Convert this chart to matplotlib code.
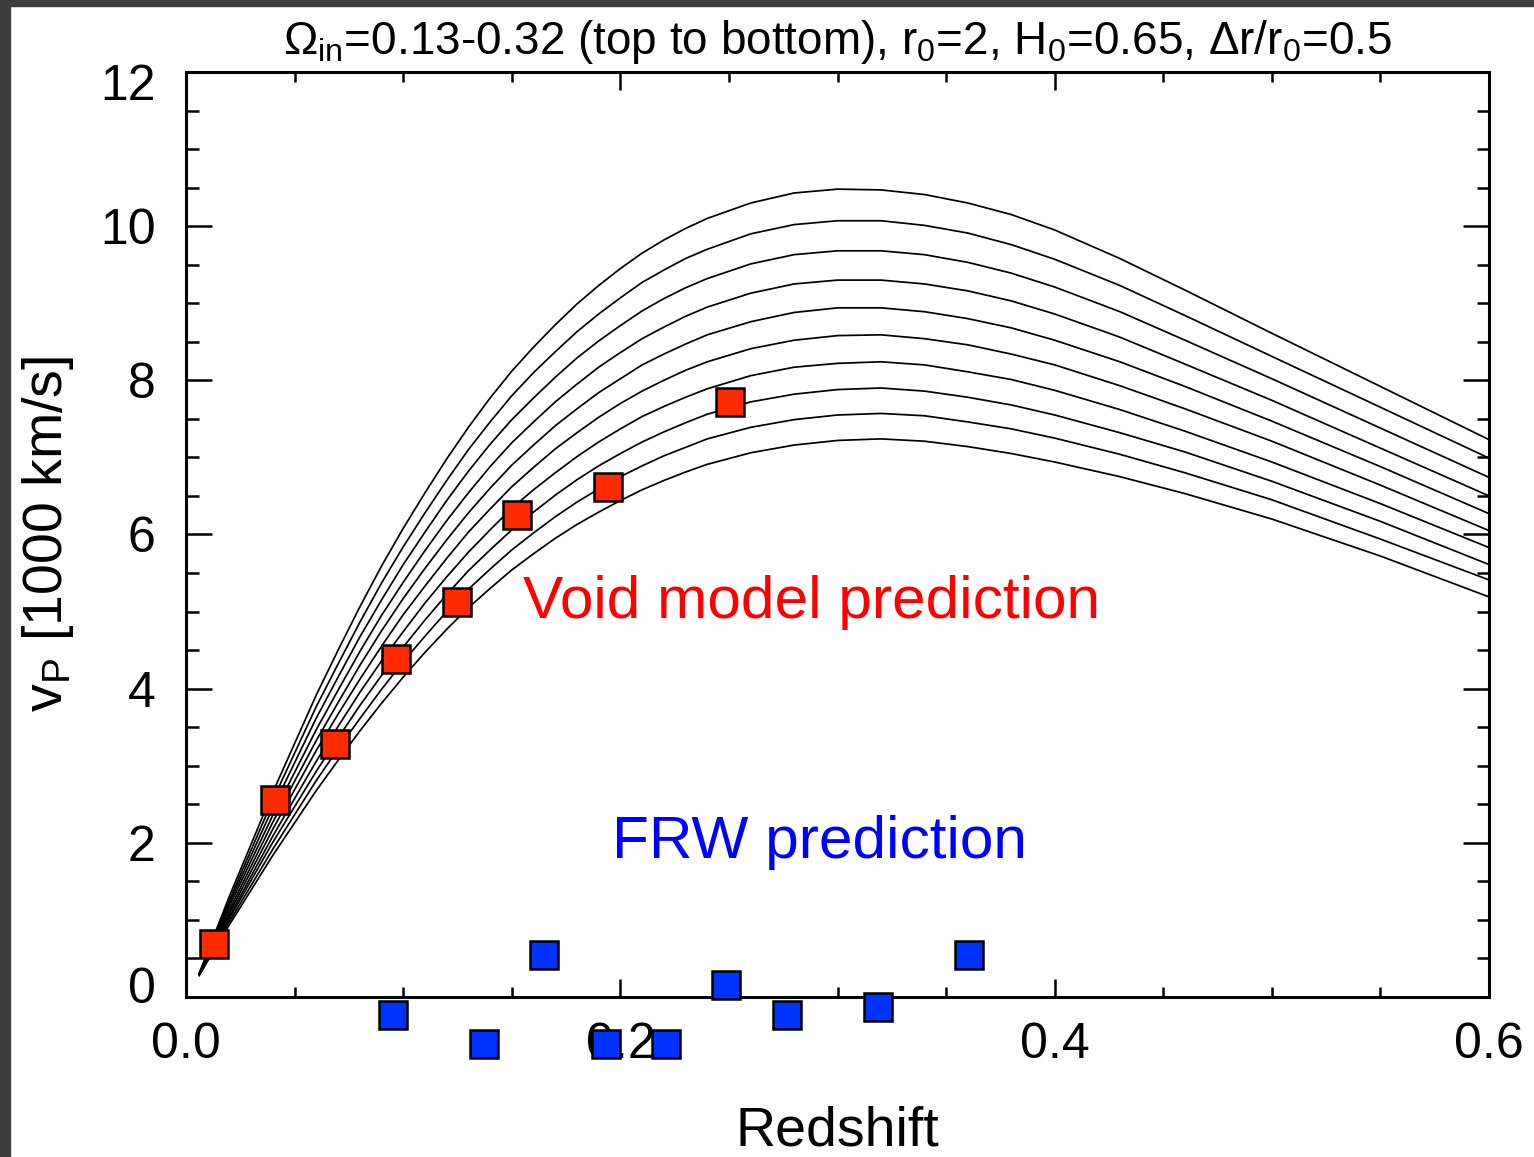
import numpy as np
import matplotlib
from matplotlib import pyplot as plt
from matplotlib.patches import Rectangle
from matplotlib.ticker import MultipleLocator, FixedLocator
import matplotlib.transforms as mtransforms

matplotlib.use('Agg')

plt.rcParams['font.family'] = ['Liberation Sans', 'DejaVu Sans']
plt.rcParams['mathtext.fontset'] = 'custom'
plt.rcParams['mathtext.rm'] = 'Liberation Sans'
plt.rcParams['mathtext.it'] = 'Liberation Sans:italic'
plt.rcParams['mathtext.bf'] = 'Liberation Sans:bold'

# redshift grid of the model curves
z_grid = [0.006, 0.02, 0.04, 0.06, 0.07, 0.08, 0.09, 0.10, 0.11, 0.12, 0.13,
          0.14, 0.15, 0.16, 0.17, 0.18, 0.19, 0.20, 0.21, 0.22, 0.23, 0.24,
          0.26, 0.28, 0.30, 0.32, 0.34, 0.36, 0.38, 0.40, 0.43, 0.46, 0.50,
          0.55, 0.60]

# v_P [1000 km/s] for Omega_in = 0.13 ... 0.32 (top to bottom)
curve01 = [0.30, 1.31, 2.66, 3.92, 4.50, 5.06, 5.59, 6.08, 6.54, 6.98, 7.39,
           7.77, 8.12, 8.43, 8.72, 8.99, 9.23, 9.45, 9.65, 9.82, 9.97, 10.10,
           10.30, 10.43, 10.48, 10.47, 10.41, 10.30, 10.15, 9.95, 9.58, 9.17,
           8.61, 7.92, 7.23]
curve02 = [0.30, 1.26, 2.56, 3.77, 4.32, 4.86, 5.37, 5.84, 6.28, 6.70, 7.10,
           7.46, 7.80, 8.10, 8.37, 8.63, 8.86, 9.07, 9.27, 9.43, 9.58, 9.70,
           9.90, 10.02, 10.07, 10.07, 10.01, 9.91, 9.76, 9.57, 9.23, 8.84,
           8.31, 7.65, 6.99]
curve03 = [0.30, 1.22, 2.46, 3.62, 4.15, 4.67, 5.15, 5.61, 6.03, 6.44, 6.82,
           7.17, 7.49, 7.77, 8.04, 8.29, 8.51, 8.71, 8.90, 9.06, 9.20, 9.32,
           9.51, 9.63, 9.68, 9.68, 9.63, 9.53, 9.39, 9.21, 8.89, 8.52,
           8.02, 7.38, 6.74]
curve04 = [0.29, 1.18, 2.36, 3.47, 3.98, 4.48, 4.95, 5.38, 5.79, 6.18, 6.54,
           6.88, 7.19, 7.46, 7.72, 7.95, 8.17, 8.36, 8.54, 8.69, 8.83, 8.95,
           9.13, 9.25, 9.30, 9.30, 9.25, 9.16, 9.03, 8.86, 8.56, 8.21,
           7.74, 7.12, 6.50]
curve05 = [0.29, 1.13, 2.27, 3.33, 3.82, 4.30, 4.75, 5.17, 5.56, 5.93, 6.28,
           6.60, 6.90, 7.16, 7.41, 7.63, 7.84, 8.02, 8.20, 8.34, 8.47, 8.59,
           8.76, 8.88, 8.94, 8.94, 8.89, 8.80, 8.68, 8.52, 8.24, 7.92,
           7.47, 6.88, 6.27]
curve06 = [0.29, 1.09, 2.18, 3.20, 3.67, 4.12, 4.55, 4.96, 5.33, 5.69, 6.03,
           6.33, 6.62, 6.87, 7.11, 7.32, 7.52, 7.70, 7.86, 8.00, 8.13, 8.24,
           8.41, 8.52, 8.58, 8.59, 8.54, 8.46, 8.34, 8.20, 7.93, 7.63,
           7.21, 6.64, 6.05]
curve07 = [0.29, 1.05, 2.09, 3.06, 3.51, 3.95, 4.36, 4.74, 5.11, 5.45, 5.77,
           6.06, 6.34, 6.58, 6.80, 7.01, 7.20, 7.37, 7.53, 7.66, 7.78, 7.89,
           8.06, 8.17, 8.22, 8.24, 8.20, 8.11, 8.01, 7.87, 7.62, 7.34,
           6.94, 6.40, 5.83]
curve08 = [0.28, 1.02, 2.01, 2.93, 3.36, 3.78, 4.17, 4.54, 4.89, 5.22, 5.53,
           5.80, 6.06, 6.29, 6.51, 6.71, 6.89, 7.05, 7.20, 7.33, 7.45, 7.56,
           7.72, 7.82, 7.88, 7.90, 7.86, 7.78, 7.68, 7.55, 7.32, 7.07,
           6.69, 6.17, 5.61]
curve09 = [0.28, 0.98, 1.92, 2.81, 3.22, 3.61, 3.99, 4.35, 4.68, 5.00, 5.29,
           5.55, 5.80, 6.02, 6.23, 6.42, 6.59, 6.75, 6.89, 7.02, 7.13, 7.24,
           7.39, 7.49, 7.55, 7.57, 7.54, 7.46, 7.37, 7.25, 7.04, 6.80,
           6.45, 5.94, 5.41]
curve10 = [0.28, 0.94, 1.84, 2.68, 3.07, 3.45, 3.81, 4.15, 4.47, 4.77, 5.05,
           5.30, 5.54, 5.75, 5.95, 6.13, 6.29, 6.44, 6.58, 6.70, 6.81, 6.91,
           7.06, 7.16, 7.22, 7.24, 7.21, 7.14, 7.05, 6.94, 6.75, 6.53,
           6.20, 5.72, 5.19]

# void model prediction (red squares)
void_z = [0.0130, 0.0409, 0.0688, 0.0967, 0.1246, 0.1525, 0.1945, 0.2503]
void_vp = [0.69, 2.55, 3.28, 4.39, 5.13, 6.25, 6.61, 7.72]

# FRW prediction (blue squares)
frw_z = [0.0951, 0.1372, 0.1648, 0.1932, 0.2210, 0.2487, 0.2768, 0.3187, 0.3606]
frw_vp = [-0.23, -0.61, 0.54, -0.61, -0.61, 0.16, -0.23, -0.13, 0.54]

x_ticks = [0.0, 0.2, 0.4, 0.6]
x_ticklabels = ['0.0', '0.2', '0.4', '0.6']
y_ticks = [0, 2, 4, 6, 8, 10, 12]

fig = plt.figure(figsize=(15.34, 11.57), dpi=100)
ax = fig.add_axes([0.1213, 0.1383, 0.8494, 0.7995])

for vp in [curve01, curve02, curve03, curve04, curve05,
           curve06, curve07, curve08, curve09, curve10]:
    ax.plot(z_grid, vp, color='black', lw=1.25, zorder=2,
            solid_joinstyle='round')

ax.plot(void_z, void_vp, ls='none', marker='s', ms=20, mfc='#ff2a00',
        mec='black', mew=1.8, zorder=5, clip_on=False)
ax.plot(frw_z, frw_vp, ls='none', marker='s', ms=20, mfc='#0033ff',
        mec='black', mew=1.8, zorder=5, clip_on=False)

ax.text(0.155, 4.91, 'Void model prediction', color='#ff0000', fontsize=43.5,
        ha='left', va='baseline')
ax.text(0.196, 1.80, 'FRW prediction', color='#0000ff', fontsize=43.5,
        ha='left', va='baseline')

ax.set_xlim(0, 0.6)
ax.set_ylim(0, 12)
ax.xaxis.set_major_locator(FixedLocator(x_ticks))
ax.xaxis.set_minor_locator(MultipleLocator(0.05))
ax.yaxis.set_major_locator(FixedLocator(y_ticks))
ax.yaxis.set_minor_locator(MultipleLocator(0.5))
ax.set_xticklabels(x_ticklabels)
ax.set_yticklabels([str(v) for v in y_ticks])

ax.tick_params(which='both', direction='in', top=True, right=True,
               width=1.8, color='black', labelsize=36)
ax.tick_params(axis='x', which='major', length=13, pad=18)
ax.tick_params(axis='x', which='minor', length=7)
ax.tick_params(axis='y', which='major', length=18.5, pad=22)
ax.tick_params(axis='y', which='minor', length=9)
for sp in ax.spines.values():
    sp.set_linewidth(2.2)

# the first and last y labels sit a little inside the frame
ylabels = ax.get_yticklabels()
shift_up = mtransforms.ScaledTranslation(0, 0.12, fig.dpi_scale_trans)
shift_down = mtransforms.ScaledTranslation(0, -0.10, fig.dpi_scale_trans)
ylabels[0].set_transform(ylabels[0].get_transform() + shift_up)
ylabels[-1].set_transform(ylabels[-1].get_transform() + shift_down)

ax.set_xlabel('Redshift', fontsize=40, labelpad=27)
ax.set_ylabel(r'v$_{\rm P}$ [1000 km/s]', fontsize=40, labelpad=17)
ax.set_title(r'$\Omega_{\rm in}$=0.13-0.32 (top to bottom), r$_0$=2, '
             r'H$_0$=0.65, $\Delta$r/r$_0$=0.5', fontsize=33, pad=13)

# dark frame along the left and top edges
fig.patches.append(Rectangle((0, 0), 10 / 1534, 1, transform=fig.transFigure,
                             color='#3d3d3d', zorder=10))
fig.patches.append(Rectangle((0, 1 - 6 / 1157), 1, 6 / 1157,
                             transform=fig.transFigure, color='#3d3d3d', zorder=10))

fig.savefig('out.png', dpi=100)
